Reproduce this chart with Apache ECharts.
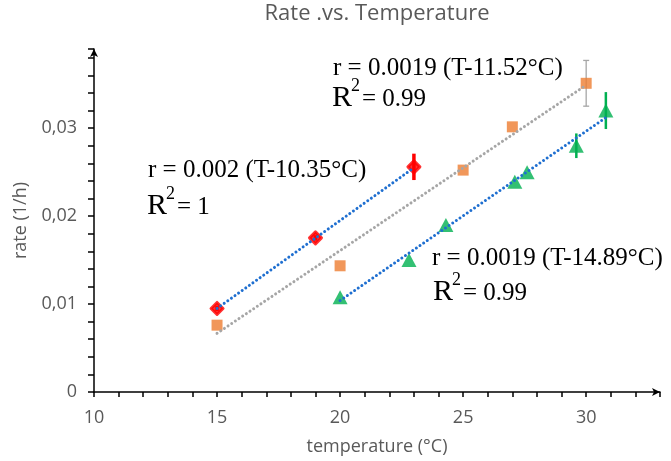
<!DOCTYPE html>
<html>
<head>
<meta charset="utf-8">
<script src="https://cdn.jsdelivr.net/npm/echarts@6/dist/echarts.min.js"></script>
<style>
html,body{margin:0;padding:0;background:#fff;}
#chart{width:671px;height:461px;}
</style>
</head>
<body>
<div id="chart"></div>
<script>
// ---- data ----
const titleText = 'Rate .vs. Temperature';
const xAxisName = 'temperature (°C)';
const yAxisName = 'rate (1/h)';

const redX = [15, 19, 23];
const redY = [0.0095, 0.01753, 0.0256];
const redErr = [0.0003, 0.0003, 0.0015];

const orangeX = [15, 20, 25, 27, 30];
const orangeY = [0.0076, 0.01435, 0.02523, 0.03015, 0.0351];
const orangeErr = [0, 0, 0, 0, 0.0026];

const greenX = [20, 22.8, 24.3, 27.1, 27.6, 29.6, 30.8];
const greenY = [0.01076, 0.0150, 0.0190, 0.0239, 0.0250, 0.0280, 0.0320];
const greenErr = [0, 0, 0, 0, 0, 0.0014, 0.0021];

const redTrendX = [15, 23];
const redTrendY = [0.0095, 0.0255];
const orangeTrendX = [15, 30];
const orangeTrendY = [0.00667, 0.0349];
const greenTrendX = [20, 30.8];
const greenTrendY = [0.0104, 0.0312];

const xMin = 10, xMax = 33, xInterval = 5;
const yMin = 0, yMax = 0.039, yInterval = 0.01;

const eqRed = 'r = 0.002 (T-10.35°C)';
const r2Red = '= 1';
const eqOrange = 'r = 0.0019 (T-11.52°C)';
const r2Orange = '= 0.99';
const eqGreen = 'r = 0.0019 (T-14.89°C)';
const r2Green = '= 0.99';

// ---- helpers ----
const zip = (xs, ys) => xs.map((x, i) => [x, ys[i]]);
const zip3 = (xs, ys, es) => xs.map((x, i) => [x, ys[i], es[i]]);

function errSeries(data, color, width, cap) {
  return {
    type: 'custom',
    z: 1,
    silent: true,
    data: data,
    renderItem: function (params, api) {
      const x = api.value(0), y = api.value(1), e = api.value(2);
      if (!e) return null;
      const t = api.coord([x, y + e]);
      const b = api.coord([x, y - e]);
      const st = { stroke: color, lineWidth: width };
      const children = [{ type: 'line', shape: { x1: t[0], y1: t[1], x2: b[0], y2: b[1] }, style: st }];
      if (cap) {
        children.push({ type: 'line', shape: { x1: t[0] - cap, y1: t[1], x2: t[0] + cap, y2: t[1] }, style: st });
        children.push({ type: 'line', shape: { x1: b[0] - cap, y1: b[1], x2: b[0] + cap, y2: b[1] }, style: st });
      }
      return { type: 'group', children: children };
    }
  };
}

function trendSeries(data, color) {
  return {
    type: 'line',
    z: 5,
    data: data,
    symbol: 'none',
    silent: true,
    lineStyle: { color: color, width: 3, type: [0.01, 4.4], cap: 'round' }
  };
}

const serif = '"Liberation Serif", "Times New Roman", serif';
function eq(text, x, y) {
  return { type: 'text', x: x, y: y, z: 100,
    style: { text: text, fontFamily: serif, fontSize: 25, fill: '#000', align: 'left', verticalAlign: 'middle' } };
}
function r2(x, base, rest) {
  return [
    { type: 'text', x: x, y: base - 10, z: 100,
      style: { text: 'R', fontFamily: serif, fontSize: 30, fill: '#000', align: 'left', verticalAlign: 'middle' } },
    { type: 'text', x: x + 19, y: base - 22, z: 100,
      style: { text: '2', fontFamily: serif, fontSize: 18, fill: '#000', align: 'left', verticalAlign: 'middle' } },
    { type: 'text', x: x + 30, y: base - 8.4, z: 100,
      style: { text: rest, fontFamily: serif, fontSize: 25, fill: '#000', align: 'left', verticalAlign: 'middle' } }
  ];
}

const sans = '"Open Sans", "Noto Sans", sans-serif';
const gray = '#595959';

const chart = echarts.init(document.getElementById('chart'), null, { renderer: 'canvas' });
chart.setOption({
  animation: false,
  backgroundColor: '#fff',
  grid: { left: 94, right: 11, top: 49, bottom: 69, containLabel: false },
  xAxis: {
    type: 'value', min: xMin, max: xMax, interval: xInterval,
    name: xAxisName, nameLocation: 'middle', nameGap: 46,
    nameTextStyle: { fontFamily: sans, fontSize: 18, color: gray },
    axisLine: { show: true, onZero: false, symbol: ['none', 'arrow'], symbolSize: [6, 8], lineStyle: { color: '#000', width: 1.5 } },
    axisTick: { show: true, length: 5, lineStyle: { color: '#000', width: 1.5 } },
    minorTick: { show: true, splitNumber: 5, length: 5, lineStyle: { color: '#000', width: 1.5 } },
    splitLine: { show: false },
    axisLabel: { showMaxLabel: false, margin: 17, fontFamily: sans, fontSize: 18, color: gray }
  },
  yAxis: {
    type: 'value', min: yMin, max: yMax, interval: yInterval,
    name: yAxisName, nameLocation: 'middle', nameGap: 64, nameRotate: 90,
    nameTextStyle: { fontFamily: sans, fontSize: 18, color: gray },
    axisLine: { show: true, onZero: false, symbol: ['none', 'arrow'], symbolSize: [6, 8], lineStyle: { color: '#000', width: 1.5 } },
    axisTick: { show: true, length: 6, lineStyle: { color: '#000', width: 1.5 } },
    minorTick: { show: true, splitNumber: 5, length: 6, lineStyle: { color: '#000', width: 1.5 } },
    splitLine: { show: false },
    axisLabel: {
      showMaxLabel: false, margin: 17, fontFamily: sans, fontSize: 18, color: gray,
      formatter: v => (Math.abs(v) < 1e-9 ? '0' : v.toFixed(2).replace('.', ','))
    }
  },
  series: [
    errSeries(zip3(redX, redY, redErr), '#ff0000', 3.5, 0),
    errSeries(zip3(orangeX, orangeY, orangeErr), '#a6a6a6', 1.3, 3),
    errSeries(zip3(greenX, greenY, greenErr), '#00b050', 2.5, 0),
    { type: 'scatter', z: 3, data: zip(redX, redY), symbol: 'diamond', symbolSize: 12,
      itemStyle: { color: '#ff0000', borderColor: '#ff0000', borderWidth: 3, borderJoin: 'round' } },
    { type: 'scatter', z: 3, data: zip(orangeX, orangeY), symbol: 'rect', symbolSize: 11,
      itemStyle: { color: '#ed7d31' } },
    { type: 'scatter', z: 3, data: zip(greenX, greenY), symbol: 'triangle', symbolSize: [15, 14],
      itemStyle: { color: '#00b050' } },
    trendSeries(zip(redTrendX, redTrendY), '#1f6fd0'),
    trendSeries(zip(orangeTrendX, orangeTrendY), '#a6a6a6'),
    trendSeries(zip(greenTrendX, greenTrendY), '#1f6fd0')
  ],
  graphic: [
    { type: 'text', x: 377, y: 14, z: 100,
      style: { text: titleText, fontFamily: sans, fontSize: 22, fill: gray, align: 'center', verticalAlign: 'middle' } },
    eq(eqOrange, 333, 68),
    ...r2(332, 108, r2Orange),
    eq(eqRed, 148, 170),
    ...r2(147, 216, r2Red),
    eq(eqGreen, 432, 258),
    ...r2(433, 302, r2Green)
  ]
});
</script>
</body>
</html>
